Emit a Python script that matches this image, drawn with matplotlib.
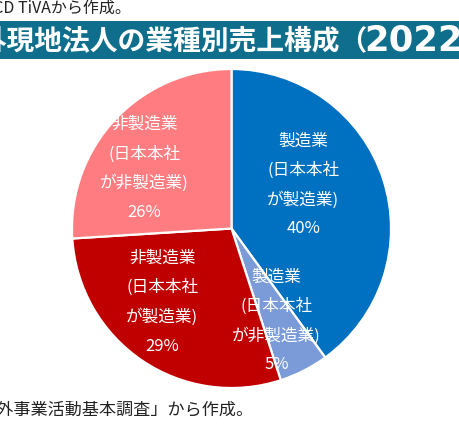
import matplotlib
matplotlib.use("Agg")
import matplotlib.pyplot as plt
from matplotlib.patches import Rectangle
import numpy as np

plt.rcParams['font.family'] = ['Noto Sans CJK JP', 'DejaVu Sans']

categories = ["製造業\n(日本本社\nが製造業)",
              "製造業\n(日本本社\nが非製造業)",
              "非製造業\n(日本本社\nが製造業)",
              "非製造業\n(日本本社\nが非製造業)"]
shares = [40, 5, 29, 26]
colors = ["#0070C0", "#7B9BD8", "#C00000", "#FF7C80"]
title = "海外現地法人の業種別売上構成（"
title_year = "2022年）"
note_top = "資料：OECD TiVAから作成。"
note_bottom = "資料：経済産業省「海外事業活動基本調査」から作成。"

# label placement (fraction of radius, angle in degrees)
label_r = [0.53, 0.64, 0.63, 0.667]
label_ang = [31.8, -63.8, 226.4, 145.0]

W, H = 459, 439
fig = plt.figure(figsize=(W / 100, H / 100), dpi=100)

# title bar
fig.patches.append(Rectangle((0, 1 - 60 / H), 1, 38 / H, transform=fig.transFigure,
                             facecolor="#0F6E8C", edgecolor="none", zorder=0))
fig.text(-49 / W, 1 - 41 / H, title, color="white", fontsize=20, fontweight="bold",
         ha="left", va="center")
fig.text(364 / W, 1 - 41 / H, title_year, color="white", fontsize=25.5,
         fontweight="bold", ha="left", va="center",
         family=['DejaVu Sans', 'Noto Sans CJK JP'])
fig.text(131 / W, 1 - 9 / H, note_top, color="#222222", fontsize=11.5, ha="right", va="center")
fig.text(253 / W, 1 - 410 / H, note_bottom, color="#222222", fontsize=12.3, ha="right", va="center")

cx, cy, r = 231.5, 229.5, 159.5
ax = fig.add_axes([(cx - r) / W, (H - cy - r) / H, 2 * r / W, 2 * r / H])
wedges, _ = ax.pie(shares, colors=colors, startangle=90, counterclock=False,
                   radius=1.0, wedgeprops=dict(edgecolor="white", linewidth=1.6))
ax.set_xlim(-1, 1)
ax.set_ylim(-1, 1)
ax.set_aspect("equal")
ax.axis("off")

for cat, s, rr, a in zip(categories, shares, label_r, label_ang):
    t = np.deg2rad(a)
    ax.text(rr * np.cos(t), rr * np.sin(t), f"{cat}\n{s}%", color="white",
            fontsize=12, ha="center", va="center", linespacing=1.9)

fig.savefig("out.png", dpi=100)
